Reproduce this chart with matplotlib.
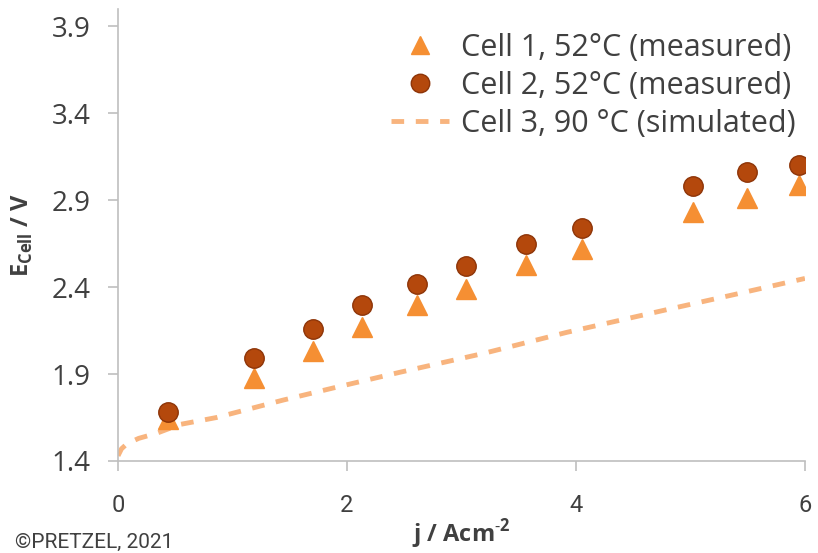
import numpy as np
import matplotlib
matplotlib.use('Agg')
import matplotlib.pyplot as plt

# data
j_meas = [0.44, 1.19, 1.70, 2.13, 2.61, 3.04, 3.56, 4.05, 5.02, 5.49, 5.95]
e_cell1 = [1.64, 1.88, 2.03, 2.17, 2.30, 2.39, 2.53, 2.62, 2.83, 2.91, 2.99]
e_cell2 = [1.68, 1.99, 2.16, 2.30, 2.42, 2.52, 2.65, 2.74, 2.98, 3.06, 3.10]

j_sim = [0.0, 0.03, 0.08, 0.18, 0.34, 0.54, 0.86, 1.15, 1.44, 1.88, 2.46, 3.20, 3.92, 4.79, 5.40, 6.0]
e_cell3 = [1.43, 1.47, 1.50, 1.53, 1.56, 1.61, 1.65, 1.70, 1.75, 1.82, 1.91, 2.02, 2.14, 2.27, 2.36, 2.45]

labels = ['Cell 1, 52°C (measured)', 'Cell 2, 52°C (measured)', 'Cell 3, 90 °C (simulated)']
yticks = [1.4, 1.9, 2.4, 2.9, 3.4, 3.9]
xticks = [0, 2, 4, 6]

plt.rcParams['font.family'] = ['Open Sans', 'DejaVu Sans']
plt.rcParams['mathtext.fontset'] = 'custom'
plt.rcParams['mathtext.bf'] = 'Open Sans:bold'
plt.rcParams['mathtext.rm'] = 'Open Sans'

fig = plt.figure(figsize=(8.18, 5.53), dpi=100)
ax = fig.add_axes([0.1443, 0.1664, 0.984 - 0.1443, 0.9837 - 0.1664])

ln, = ax.plot(j_sim, e_cell3, color='#F8B47E', lw=3.5, dashes=(2.6, 2.4), zorder=1, label=labels[2])
tr, = ax.plot(j_meas, e_cell1, ls='none', marker='^', ms=14, color='#F58F33', mec='#F58F33', zorder=2, label=labels[0])
ci, = ax.plot(j_meas, e_cell2, ls='none', marker='o', ms=14, color='#B4480C', mec='#8E3508', mew=1, zorder=3, label=labels[1])

ax.set_xlim(0, 6)
ax.set_ylim(1.4, 4.0)
ax.set_xticks(xticks)
ax.set_yticks(yticks)
ax.set_yticklabels(['%.1f' % v for v in yticks])

for s in ['top', 'right']:
    ax.spines[s].set_visible(False)
for s in ['left', 'bottom']:
    ax.spines[s].set_color('#BFBFBF')
    ax.spines[s].set_linewidth(1.2)
ax.tick_params(axis='both', color='#BFBFBF', length=7, width=1.2, direction='out')
ax.tick_params(axis='y', labelsize=20, labelcolor='#404040', pad=13)
ax.tick_params(axis='x', labelsize=17, labelcolor='#404040', pad=17)
for t in ax.get_xticklabels():
    t.set_fontfamily('Roboto')

ax.set_ylabel(r'E$_{\mathbf{Cell}}$ / V', fontsize=17, fontweight='bold', color='#404040', labelpad=12)
ax.set_xlabel(r'j / Acm$^{\mathbf{\text{-}2}}$', fontsize=17, fontweight='bold', color='#404040', labelpad=0)

leg = ax.legend(handles=[tr, ci, ln], loc='upper right', frameon=False, fontsize=22,
                handlelength=1.9, handletextpad=0.4, labelspacing=0.26,
                bbox_to_anchor=(1.0, 0.967), borderaxespad=0.0, borderpad=0.3,
                markerscale=0.95)
for t in leg.get_texts():
    t.set_color('#404040')

fig.text(15 / 818, 0.009, '©PRETZEL, 2021', fontsize=15, family='Roboto', color='#404040', va='baseline')

fig.savefig('out.png', dpi=100)
